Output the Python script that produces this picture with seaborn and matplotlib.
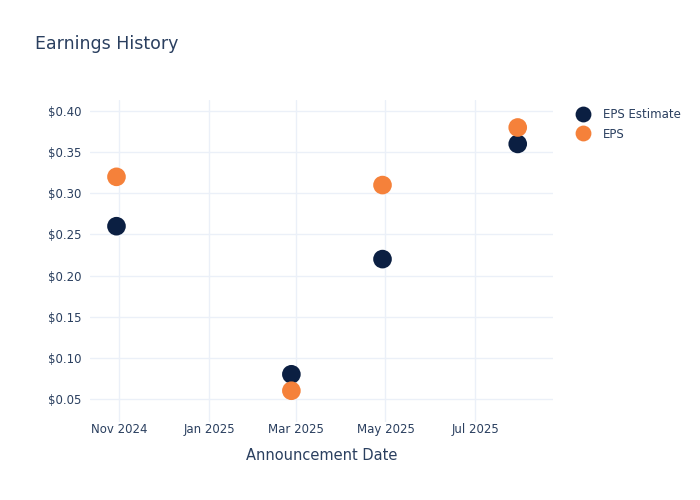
import pandas as pd
import matplotlib.pyplot as plt
import matplotlib.dates as mdates
from matplotlib.ticker import FuncFormatter, MultipleLocator
import seaborn as sns

# Data
dates = ["2024-10-30", "2025-02-26", "2025-04-29", "2025-07-30"]
eps_estimate = [0.26, 0.08, 0.22, 0.36]
eps_actual = [0.32, 0.06, 0.31, 0.38]
series_names = ["EPS Estimate", "EPS"]
series_colors = ["#0b1f42", "#f5813a"]

df = pd.DataFrame({
    "date": pd.to_datetime(dates * 2),
    "value": eps_estimate + eps_actual,
    "series": [series_names[0]] * len(dates) + [series_names[1]] * len(dates),
})

sns.set_style("white")
plt.rcParams['font.family'] = ['DejaVu Sans']
text_color = "#2a3f5f"

fig = plt.figure(figsize=(7, 5), dpi=100)
ax = fig.add_axes([0.1286, 0.156, 0.6614, 0.644])

sns.scatterplot(data=df, x="date", y="value", hue="series",
                palette=dict(zip(series_names, series_colors)),
                s=180, edgecolor="none", ax=ax, zorder=3)

ax.set_xlim(pd.Timestamp("2024-10-12"), pd.Timestamp("2025-08-23"))
ax.set_ylim(0.022, 0.4134)
ax.yaxis.set_major_locator(MultipleLocator(0.05))
ax.yaxis.set_major_formatter(FuncFormatter(lambda v, p: f"${v:.2f}"))
ax.xaxis.set_major_locator(mdates.MonthLocator(bymonth=[1, 3, 5, 7, 11]))
ax.xaxis.set_major_formatter(mdates.DateFormatter("%b %Y"))

ax.grid(True, color="#ebf0f8", linewidth=1, zorder=0)
for s in ax.spines.values():
    s.set_visible(False)
ax.tick_params(axis="y", length=0, labelsize=8.5, labelcolor=text_color, pad=6)
ax.tick_params(axis="x", length=0, labelsize=8.5, labelcolor=text_color, pad=1)

ax.set_xlabel("Announcement Date", fontsize=10.5, color=text_color, labelpad=8)
ax.set_ylabel("")
fig.text(0.05, 0.912, "Earnings History", fontsize=12.5, color=text_color, va="center")

leg = ax.legend(loc="upper left", bbox_to_anchor=(1.017, 1.008), frameon=False,
                fontsize=8.5, handletextpad=0.7, labelspacing=0.55, markerscale=0.85)
for t in leg.get_texts():
    t.set_color(text_color)

fig.savefig("out.png", dpi=100)
